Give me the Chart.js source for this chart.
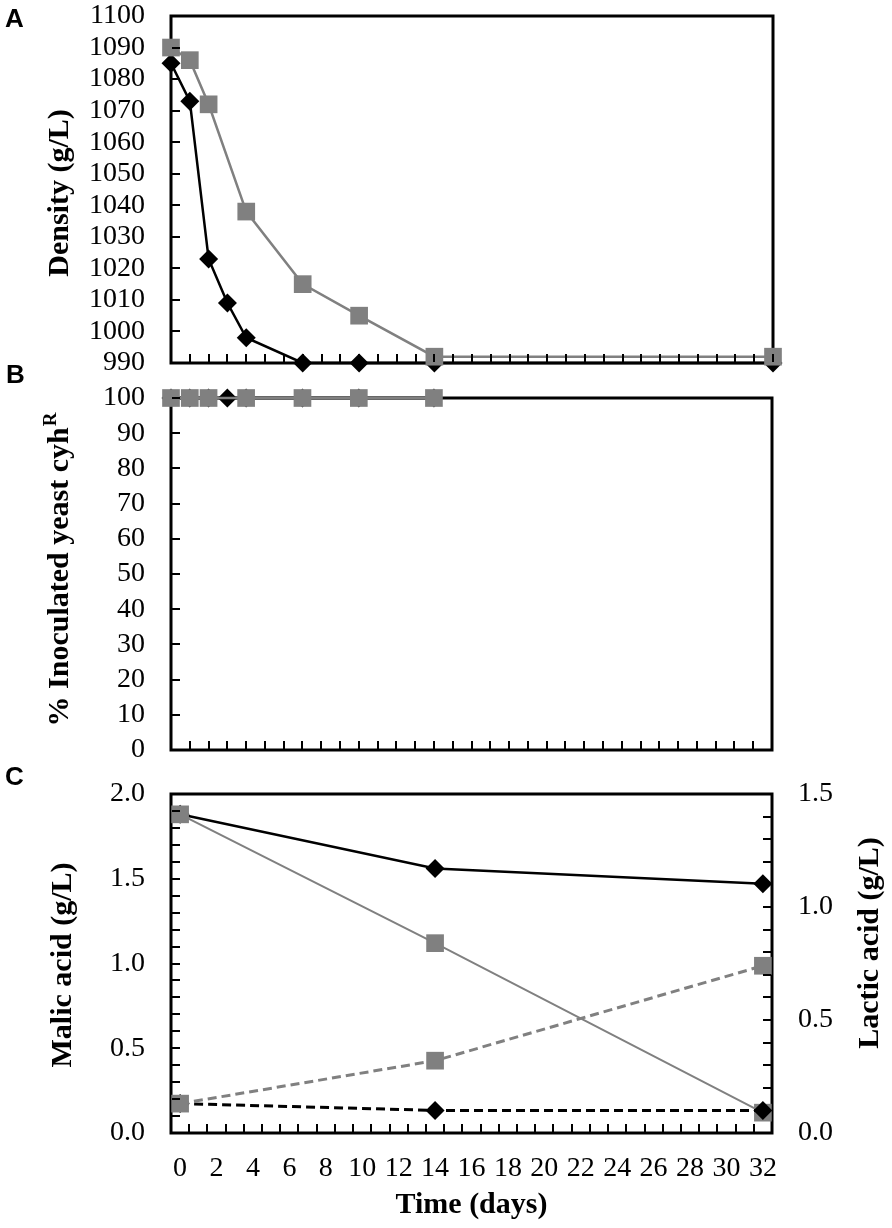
<!DOCTYPE html>
<html>
<head>
<meta charset="utf-8">
<script src="https://cdn.jsdelivr.net/npm/chart.js@4.4.0/dist/chart.umd.min.js"></script>
<style>
html, body { margin: 0; padding: 0; background: #fff; }
#wrap { position: relative; width: 892px; height: 1228px; }
#wrap canvas { position: absolute; left: 0; top: 0; }
</style>
</head>
<body>
<div id="wrap">
  <canvas id="chartA" width="892" height="1228"></canvas>
  <canvas id="chartB" width="892" height="1228"></canvas>
  <canvas id="chartC" width="892" height="1228"></canvas>
</div>
<script>
// A: density
var daysBlackA = [0, 1, 2, 3, 4, 7, 10, 14, 32];
var densityBlack = [1085, 1073, 1023, 1009, 998, 990, 990, 990, 990];
var daysGreyA = [0, 1, 2, 4, 7, 10, 14, 32];
var densityGrey = [1090, 1086, 1072, 1038, 1015, 1005, 992, 992];
var densityTicks = [990, 1000, 1010, 1020, 1030, 1040, 1050, 1060, 1070, 1080, 1090, 1100];

// B: % inoculated yeast cyhR
var daysBlackB = [0, 1, 2, 3, 4, 7, 10, 14];
var cyhBlack = [100, 100, 100, 100, 100, 100, 100, 100];
var daysGreyB = [0, 1, 2, 4, 7, 10, 14];
var cyhGrey = [100, 100, 100, 100, 100, 100, 100];
var percentTicks = [0, 10, 20, 30, 40, 50, 60, 70, 80, 90, 100];

// C: malic / lactic acid
var daysC = [0, 14, 32];
var malicBlack = [1.88, 1.56, 1.47];
var malicGrey = [1.88, 1.12, 0.12];
var lacticBlack = [0.13, 0.10, 0.10];
var lacticGrey = [0.13, 0.32, 0.74];
var dayLabelsC = [0, 2, 4, 6, 8, 10, 12, 14, 16, 18, 20, 22, 24, 26, 28, 30, 32];
var malicLabels = ['0.0', '0.5', '1.0', '1.5', '2.0'];
var lacticLabels = ['0.0', '0.5', '1.0', '1.5'];

var GREY = '#808080';
Chart.defaults.font.family = '"Liberation Serif", "Times New Roman", serif';
Chart.defaults.color = '#000';

function pts(xs, ys) {
  return xs.map(function (x, i) { return { x: x, y: ys[i] }; });
}
function stepValues(from, to, step) {
  var out = [];
  for (var i = 0; from + i * step <= to + 1e-9; i++) {
    out.push(Math.round((from + i * step) * 1000) / 1000);
  }
  return out;
}
function valuesAsTicks(list) {
  return function (s) { s.ticks = list.map(function (v) { return { value: v }; }); };
}
function fixSize(w, h) {
  return function (s) {
    if (w !== null) s.width = w;
    if (h !== null) s.height = h;
    s.paddingTop = 0; s.paddingBottom = 0; s.paddingLeft = 0; s.paddingRight = 0;
  };
}
function greySquares(data, extra) {
  return Object.assign({
    data: data, borderColor: GREY, backgroundColor: GREY, borderWidth: 2.5,
    pointStyle: 'rect', pointRadius: 12.5, pointBorderWidth: 0, clip: false
  }, extra || {});
}
function blackDiamonds(data, extra) {
  return Object.assign({
    data: data, borderColor: '#000', backgroundColor: '#000', borderWidth: 2.5,
    pointStyle: 'rectRot', pointRadius: 9.5, pointBorderWidth: 0, clip: false
  }, extra || {});
}

// plot box, then inward tick marks placed through each scale
var frame = {
  id: 'frame',
  beforeDatasetsDraw: function (chart) {
    var a = chart.chartArea, ctx = chart.ctx;
    ctx.save();
    ctx.strokeStyle = '#000';
    ctx.lineWidth = 3;
    ctx.strokeRect(a.left, a.top, a.right - a.left, a.bottom - a.top);
    ctx.restore();
  },
  afterDraw: function (chart, args, opts) {
    var a = chart.chartArea, ctx = chart.ctx;
    ctx.save();
    ctx.setLineDash([]);
    ctx.strokeStyle = '#000';
    ctx.lineWidth = 2;
    (opts.marks || []).forEach(function (m) {
      var s = chart.scales[m.id];
      m.values.forEach(function (v) {
        var p = Math.round(s.getPixelForValue(v));
        ctx.beginPath();
        if (m.side === 'bottom') { ctx.moveTo(p, a.bottom - 1); ctx.lineTo(p, a.bottom - 9); }
        else if (m.side === 'left') { ctx.moveTo(a.left + 1, p); ctx.lineTo(a.left + 9, p); }
        else { ctx.moveTo(a.right - 1, p); ctx.lineTo(a.right - 9, p); }
        ctx.stroke();
      });
    });
    ctx.restore();
  }
};

var notes = {
  id: 'notes',
  afterDraw: function (chart, args, opts) {
    var ctx = chart.ctx;
    (opts.items || []).forEach(function (n) {
      ctx.save();
      ctx.translate(n.x, n.y);
      if (n.rotate) ctx.rotate(n.rotate);
      ctx.fillStyle = '#000';
      ctx.textAlign = 'left';
      ctx.textBaseline = n.baseline || 'alphabetic';
      ctx.font = n.font;
      var w = ctx.measureText(n.text).width, sw = 0;
      if (n.sup) {
        ctx.font = n.supFont;
        sw = ctx.measureText(n.sup).width;
        ctx.font = n.font;
      }
      var x0 = n.center ? -(w + sw) / 2 : 0;
      ctx.fillText(n.text, x0, 0);
      if (n.sup) {
        ctx.font = n.supFont;
        ctx.fillText(n.sup, x0 + w + 1, -n.raise);
      }
      ctx.restore();
    });
  }
};

var letterFont = 'bold 26px "Liberation Sans", Arial, sans-serif';
var titleFont = 'bold 30px "Liberation Serif", "Times New Roman", serif';
var UP = -Math.PI / 2;

function baseOptions(padding, marks, items) {
  return {
    responsive: false,
    animation: false,
    events: [],
    layout: { padding: padding, autoPadding: false },
    plugins: {
      legend: { display: false }, tooltip: { enabled: false },
      frame: { marks: marks }, notes: { items: items }
    }
  };
}
var noGrid = { display: false, drawTicks: false };
function hiddenTicks() {
  return { display: false };
}
function labelTicks(padding, cb) {
  return { padding: padding, font: { size: 28 }, autoSkip: false, maxRotation: 0, maxTicksLimit: 100, callback: cb };
}
function plain(v) { return String(v); }

var dayMarks = stepValues(0, 32, 1);

// Panel A
var optA = baseOptions({ top: 16, right: 119, bottom: 865, left: 0 }, [
  { id: 'x', side: 'bottom', values: dayMarks },
  { id: 'y', side: 'left', values: densityTicks }
], [
  { text: 'A', x: 5, y: 27, font: letterFont },
  { text: 'Density (g/L)', x: 60, y: 193, rotate: UP, center: true, baseline: 'middle', font: titleFont }
]);
optA.scales = {
  x: {
    type: 'linear', min: 0, max: 32,
    ticks: hiddenTicks(), grid: noGrid, border: { display: false },
    afterFit: fixSize(null, 0)
  },
  y: {
    min: 990, max: 1100,
    afterBuildTicks: valuesAsTicks(densityTicks),
    ticks: labelTicks(26, plain), grid: noGrid, border: { display: false },
    afterFit: fixSize(171, null)
  }
};
new Chart(document.getElementById('chartA'), {
  type: 'line',
  data: { datasets: [
    greySquares(pts(daysGreyA, densityGrey)),
    blackDiamonds(pts(daysBlackA, densityBlack))
  ] },
  options: optA,
  plugins: [frame, notes]
});

// Panel B
var optB = baseOptions({ top: 398, right: 120, bottom: 478, left: 0 }, [
  { id: 'x', side: 'bottom', values: dayMarks },
  { id: 'y', side: 'left', values: percentTicks }
], [
  { text: 'B', x: 6, y: 383, font: letterFont },
  { text: '% Inoculated yeast cyh', sup: 'R', x: 68, y: 570, rotate: UP, center: true,
    font: titleFont, supFont: 'bold 19px "Liberation Serif", "Times New Roman", serif', raise: 12 }
]);
optB.scales = {
  x: {
    type: 'linear', min: 0, max: 32,
    ticks: hiddenTicks(), grid: noGrid, border: { display: false },
    afterFit: fixSize(null, 0)
  },
  y: {
    min: 0, max: 100,
    afterBuildTicks: valuesAsTicks(percentTicks),
    ticks: labelTicks(26, plain), grid: noGrid, border: { display: false },
    afterFit: fixSize(171, null)
  }
};
new Chart(document.getElementById('chartB'), {
  type: 'line',
  data: { datasets: [
    greySquares(pts(daysGreyB, cyhGrey)),
    blackDiamonds(pts(daysBlackB, cyhBlack))
  ] },
  options: optB,
  plugins: [frame, notes]
});

// Panel C
function halfLabel(list) {
  return function (v) {
    var t = Number(v).toFixed(1);
    return list.indexOf(t) >= 0 && Math.abs(v * 2 - Math.round(v * 2)) < 1e-6 ? t : '';
  };
}
var optC = baseOptions({ top: 794, right: 0, bottom: 0, left: 0 }, [
  { id: 'x', side: 'bottom', values: stepValues(-0.5, 32.5, 1) },
  { id: 'y', side: 'left', values: stepValues(0, 2, 0.1) },
  { id: 'y2', side: 'right', values: stepValues(0, 1.5, 0.1) }
], [
  { text: 'C', x: 5, y: 785, font: letterFont },
  { text: 'Malic acid (g/L)', x: 63, y: 965, rotate: UP, center: true, baseline: 'middle', font: titleFont },
  { text: 'Lactic acid (g/L)', x: 870, y: 943, rotate: UP, center: true, baseline: 'middle', font: titleFont }
]);
optC.scales = {
  x: {
    type: 'linear', position: 'bottom', min: -0.5, max: 32.5,
    afterBuildTicks: valuesAsTicks(dayLabelsC),
    ticks: labelTicks(19, plain), grid: noGrid, border: { display: false },
    title: { display: true, text: 'Time (days)', font: { size: 30, weight: 'bold' }, padding: { top: 0, bottom: 5 } },
    afterFit: fixSize(null, 95)
  },
  y: {
    position: 'left', min: 0, max: 2,
    afterBuildTicks: valuesAsTicks(stepValues(0, 2, 0.5)),
    ticks: labelTicks(26, halfLabel(malicLabels)), grid: noGrid, border: { display: false },
    afterFit: fixSize(171, null)
  },
  y2: {
    position: 'right', min: 0, max: 1.5,
    afterBuildTicks: valuesAsTicks(stepValues(0, 1.5, 0.5)),
    ticks: labelTicks(26, halfLabel(lacticLabels)), grid: noGrid, border: { display: false },
    afterFit: fixSize(120, null)
  }
};
new Chart(document.getElementById('chartC'), {
  type: 'line',
  data: { datasets: [
    greySquares(pts(daysC, lacticGrey), { yAxisID: 'y2', borderWidth: 3, borderDash: [9, 5] }),
    blackDiamonds(pts(daysC, lacticBlack), { yAxisID: 'y2', borderWidth: 3, borderDash: [9, 5] }),
    greySquares(pts(daysC, malicGrey), { yAxisID: 'y', borderWidth: 2 }),
    blackDiamonds(pts(daysC, malicBlack), { yAxisID: 'y' })
  ] },
  options: optC,
  plugins: [frame, notes]
});
</script>
</body>
</html>
